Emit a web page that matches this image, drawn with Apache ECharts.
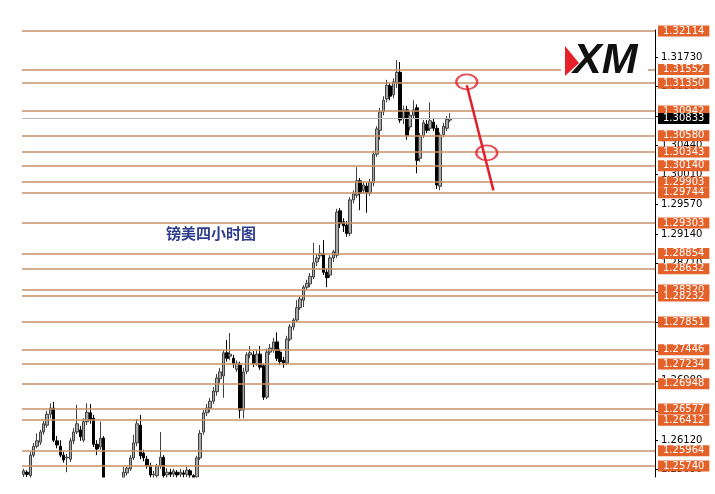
<!DOCTYPE html>
<html>
<head>
<meta charset="utf-8">
<script src="https://cdn.jsdelivr.net/npm/echarts@6/dist/echarts.min.js"></script>
<style>
html,body{margin:0;padding:0;background:#fff;}
#chart{width:715px;height:494px;}
</style>
</head>
<body>
<div id="chart"></div>
<script>
// ---- Data ----
const barCount = 190; // candle slots across the plot (incl. empty future space)
const opens = [
1.2562,1.2565,1.2560,1.2590,1.2603,1.2609,1.2624,1.2634,1.2650,1.2659,
1.2611,1.2603,1.2590,1.2586,1.2584,1.2611,1.2624,1.2627,1.2612,1.2639,
1.2652,1.2644,1.2606,1.2602,1.2615,1.2551,1.2539,1.2545,1.2533,1.2542,
1.2557,1.2564,1.2570,1.2586,1.2608,1.2634,1.2593,1.2584,1.2574,1.2561,
1.2560,1.2574,1.2587,1.2561,1.2565,1.2562,1.2565,1.2562,1.2564,1.2562,
1.2567,1.2560,1.2558,1.2586,1.2624,1.2652,1.2659,1.2669,1.2683,1.2702,
1.2706,1.2740,1.2735,1.2732,1.2716,1.2722,1.2656,1.2713,1.2737,1.2737,
1.2724,1.2738,1.2721,1.2675,1.2741,1.2744,1.2756,1.2741,1.2729,1.2725,
1.2760,1.2778,1.2788,1.2806,1.2817,1.2836,1.2841,1.2851,1.2873,1.2882,
1.2885,1.2858,1.2854,1.2879,1.2883,1.2948,1.2932,1.2927,1.2915,1.2964,
1.2971,1.2992,1.2978,1.2984,1.2974,1.2989,1.3031,1.3066,1.3093,1.3112,
1.3131,1.3118,1.3135,1.3151,1.3084,1.3096,1.3071,1.3088,1.3099,1.3025,
1.3058,1.3075,1.3069,1.3078,1.3069,1.2984,1.3060,1.3069,1.3081];
const closes = [
1.2567,1.2562,1.2590,1.2603,1.2611,1.2624,1.2636,1.2650,1.2659,1.2612,
1.2605,1.2590,1.2583,1.2587,1.2611,1.2624,1.2636,1.2617,1.2639,1.2653,
1.2642,1.2606,1.2599,1.2615,1.2551,1.2539,1.2545,1.2533,1.2542,1.2554,
1.2565,1.2571,1.2586,1.2608,1.2636,1.2589,1.2586,1.2574,1.2561,1.2562,
1.2574,1.2587,1.2560,1.2565,1.2562,1.2567,1.2561,1.2565,1.2562,1.2568,
1.2561,1.2557,1.2586,1.2622,1.2652,1.2659,1.2669,1.2684,1.2703,1.2712,
1.2740,1.2732,1.2738,1.2724,1.2725,1.2656,1.2712,1.2737,1.2740,1.2724,
1.2738,1.2719,1.2675,1.2741,1.2747,1.2756,1.2732,1.2727,1.2725,1.2760,
1.2778,1.2788,1.2806,1.2819,1.2836,1.2842,1.2852,1.2872,1.2879,1.2886,
1.2858,1.2850,1.2879,1.2888,1.2946,1.2929,1.2926,1.2915,1.2964,1.2974,
1.2992,1.2974,1.2986,1.2974,1.2990,1.3031,1.3068,1.3093,1.3110,1.3132,
1.3116,1.3137,1.3151,1.3081,1.3096,1.3058,1.3088,1.3096,1.3022,1.3058,
1.3077,1.3066,1.3080,1.3069,1.2986,1.3059,1.3072,1.3082,1.30833];
const lows = [
1.2558,1.2558,1.2555,1.2587,1.2600,1.2605,1.2620,1.2630,1.2644,1.2609,
1.2600,1.2587,1.2579,1.2565,1.2580,1.2606,1.2621,1.2611,1.2609,1.2634,
1.2636,1.2602,1.2590,1.2598,1.2546,1.2532,1.2529,1.2526,1.2527,1.2536,
1.2552,1.2560,1.2567,1.2583,1.2603,1.2584,1.2581,1.2570,1.2557,1.2554,
1.2555,1.2570,1.2554,1.2557,1.2558,1.2558,1.2557,1.2558,1.2557,1.2558,
1.2555,1.2551,1.2554,1.2583,1.2620,1.2647,1.2653,1.2665,1.2677,1.2696,
1.2674,1.2727,1.2729,1.2718,1.2712,1.2644,1.2644,1.2709,1.2732,1.2719,
1.2721,1.2715,1.2671,1.2672,1.2737,1.2740,1.2728,1.2722,1.2718,1.2722,
1.2757,1.2773,1.2785,1.2803,1.2807,1.2832,1.2836,1.2848,1.2867,1.2877,
1.2854,1.2836,1.2850,1.2873,1.2879,1.2923,1.2917,1.2910,1.2911,1.2959,
1.2967,1.2949,1.2973,1.2945,1.2970,1.2984,1.3027,1.3052,1.3088,1.3107,
1.3110,1.3113,1.3128,1.3077,1.3075,1.3052,1.3066,1.3084,1.3003,1.3020,
1.3055,1.3062,1.3065,1.3065,1.2980,1.2978,1.3056,1.3065,1.3078];
const highs = [
1.2570,1.2568,1.2595,1.2608,1.2622,1.2627,1.2640,1.2655,1.2666,1.2668,
1.2618,1.2612,1.2595,1.2592,1.2615,1.2630,1.2664,1.2633,1.2644,1.2666,
1.2665,1.2649,1.2612,1.2639,1.2618,1.2556,1.2549,1.2551,1.2548,1.2557,
1.2573,1.2574,1.2590,1.2620,1.2643,1.2649,1.2598,1.2589,1.2579,1.2567,
1.2577,1.2624,1.2590,1.2571,1.2570,1.2570,1.2568,1.2570,1.2568,1.2573,
1.2570,1.2562,1.2589,1.2627,1.2656,1.2665,1.2674,1.2690,1.2709,1.2718,
1.2744,1.2759,1.2769,1.2737,1.2729,1.2727,1.2718,1.2741,1.2750,1.2743,
1.2744,1.2750,1.2724,1.2746,1.2753,1.2762,1.2770,1.2746,1.2734,1.2765,
1.2782,1.2791,1.2817,1.2823,1.2839,1.2847,1.2857,1.2901,1.2885,1.2898,
1.2905,1.2864,1.2883,1.2891,1.2951,1.2952,1.2937,1.2933,1.2968,1.2978,
1.3012,1.2996,1.2990,1.2989,1.2995,1.3036,1.3072,1.3099,1.3116,1.3140,
1.3135,1.3142,1.3169,1.3166,1.3102,1.3102,1.3093,1.3110,1.3104,1.3062,
1.3081,1.3081,1.3107,1.3083,1.3074,1.3063,1.3077,1.3087,1.3091];

// horizontal support / resistance levels (orange labels)
const levels = [1.32114,1.31552,1.31350,1.30942,1.30580,1.30343,1.30140,1.29903,1.29744,
  1.29303,1.28854,1.28632,1.28320,1.28232,1.27851,1.27446,1.27234,1.26948,1.26577,
  1.26412,1.25964,1.25740];
const currentPrice = 1.30833;
// price-axis tick labels
const tickValues = [1.31730,1.31300,1.30870,1.30440,1.30010,1.29570,1.29140,1.28710,
  1.28280,1.27850,1.27420,1.26990,1.26550,1.26120,1.25690];
// red hand-drawn annotation: arrow line and two ellipses [barIndex, price]
const arrowLine = [[133.3, 1.3132], [141.4, 1.2978]];
const ellipses = [[133, 1.3137], [138.5, 1.3033]];
const titleText = '镑美四小时图';

// ---- Build ----
const categories = Array.from({length: barCount}, (_, i) => String(i));
const candles = opens.map((o, i) => [o, closes[i], lows[i], highs[i]]);
const fmt = v => Number(v).toFixed(5);

const chart = echarts.init(document.getElementById('chart'), null, {renderer: 'canvas'});
chart.setOption({
  animation: false,
  backgroundColor: '#ffffff',
  grid: {left: 22, right: 60, top: 30, bottom: 17},
  xAxis: {type: 'category', data: categories, show: false, boundaryGap: true},
  yAxis: {
    type: 'value', position: 'right', min: 1.2558, max: 1.3213, scale: true,
    splitLine: {show: false},
    axisLine: {show: true, lineStyle: {color: '#000', width: 1}},
    axisTick: {show: true, inside: false, length: 3, lineStyle: {color: '#000'}, customValues: tickValues},
    axisLabel: {show: true, customValues: tickValues, formatter: v => fmt(v), color: '#000',
      fontSize: 10, fontFamily: 'DejaVu Sans', margin: 6}
  },
  graphic: [
    {type: 'rect', z: 100, shape: {x: 0, y: 477.5, width: 654, height: 17}, style: {fill: '#fff'}},
    {type: 'rect', z: 100, shape: {x: 561, y: 40, width: 87, height: 37}, style: {fill: '#fff'}},
    {type: 'polygon', z: 102, shape: {points: [[565, 46], [579, 63], [565, 76]]}, style: {fill: '#E8202A'}},
    {type: 'text', z: 101, x: 573, y: 61, style: {text: 'XM', fill: '#111', fontSize: 43,
      fontWeight: 'bold', fontStyle: 'italic', fontFamily: 'Liberation Sans', verticalAlign: 'middle'}},
    {type: 'text', z: 101, x: 166, y: 233, style: {text: titleText, fill: '#2E3C8E', fontSize: 15,
      fontWeight: 'bold', fontFamily: 'Noto Sans CJK SC', verticalAlign: 'middle'}}
  ],
  series: [
    {
      type: 'candlestick', data: candles, clip: true, barWidth: 3,
      itemStyle: {color: '#a8a8a8', borderColor: '#404040', color0: '#000', borderColor0: '#000', borderWidth: 1},
      markLine: {
        silent: true, symbol: 'none', animation: false, precision: 5,
        lineStyle: {color: '#C8916A', width: 1.5, type: 'solid'},
        label: {show: true, position: 'end', distance: 3, formatter: p => fmt(p.value),
          color: '#fff', backgroundColor: '#E4612A', padding: [1, 5, 0, 5],
          fontSize: 10, fontFamily: 'DejaVu Sans'},
        data: levels.map(v => ({yAxis: v}))
      }
    },
    {
      type: 'line', data: [], silent: true,
      markLine: {
        silent: true, symbol: 'none', animation: false, precision: 5,
        lineStyle: {color: '#B8B8B8', width: 1, type: 'solid'},
        label: {show: true, position: 'end', distance: 3, formatter: p => fmt(p.value),
          color: '#fff', backgroundColor: '#000', padding: [1, 5, 0, 5],
          fontSize: 10, fontFamily: 'DejaVu Sans'},
        data: [{yAxis: currentPrice}]
      }
    },
    {
      type: 'line', data: arrowLine, symbol: 'none', silent: true, z: 10,
      lineStyle: {color: '#E2202C', width: 2.5}
    },
    {
      type: 'scatter', data: ellipses, symbol: 'circle', symbolSize: [21, 15], silent: true, z: 10,
      itemStyle: {color: 'rgba(0,0,0,0)', borderColor: '#E2202C', borderWidth: 2}
    }
  ]
});
</script>
</body>
</html>
